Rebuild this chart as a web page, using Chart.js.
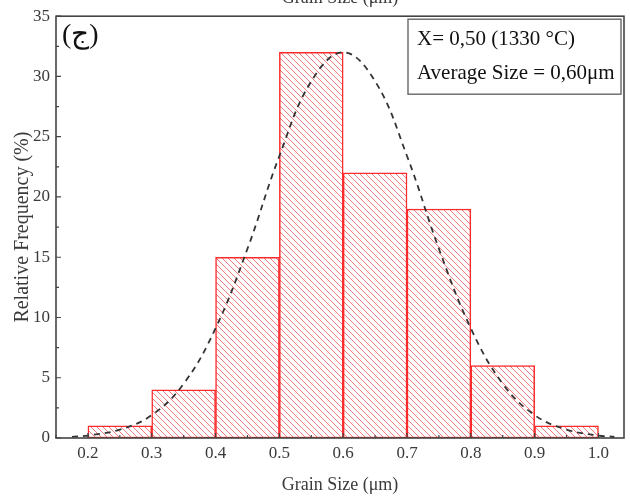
<!DOCTYPE html>
<html>
<head>
<meta charset="utf-8">
<script src="https://cdn.jsdelivr.net/npm/chart.js@4"></script>
<style>
  html, body { margin: 0; padding: 0; background: #fff; }
  #wrap { width: 630px; height: 497px; }
</style>
</head>
<body>
<div id="wrap"><canvas id="c" width="630" height="497"></canvas></div>
<script>
// Grain size histogram with a fitted normal curve.
const BIN_CENTERS = [0.25, 0.35, 0.45, 0.55, 0.65, 0.75, 0.85, 0.95];
const FREQ = [1, 4, 15, 32, 22, 19, 6, 1];

const FIT_X = [0.175, 0.2, 0.25, 0.3, 0.35, 0.4, 0.45, 0.5, 0.55, 0.6, 0.65, 0.7, 0.75, 0.8, 0.85, 0.9, 0.95, 1.0, 1.025];
const FIT_Y = [0.1, 0.2, 0.7, 1.9, 4.5, 9.1, 15.7, 23.4, 29.6, 32, 29.6, 23.4, 15.7, 9.1, 4.5, 1.9, 0.7, 0.2, 0.1];

const X_TICKS = [0.2, 0.3, 0.4, 0.5, 0.6, 0.7, 0.8, 0.9, 1.0];
const X_MINOR = [0.15, 0.25, 0.35, 0.45, 0.55, 0.65, 0.75, 0.85, 0.95];
const Y_TICKS = [0, 5, 10, 15, 20, 25, 30, 35];
const Y_MINOR = [2.5, 7.5, 12.5, 17.5, 22.5, 27.5, 32.5];

const PANEL = "(ج)";
const NOTE = ["X= 0,50 (1330 °C)", "Average Size = 0,60μm"];

const SERIF = "'Liberation Serif', 'DejaVu Serif', serif";
const INK = "#3a3a3a";

function hatch() {
  const s = 6;
  const c = document.createElement("canvas");
  c.width = s; c.height = s;
  const g = c.getContext("2d");
  g.fillStyle = "#fff";
  g.fillRect(0, 0, s, s);
  g.strokeStyle = "#ee7b7b";
  g.lineWidth = 1;
  g.beginPath();
  g.moveTo(-1, -1); g.lineTo(s + 1, s + 1);
  g.moveTo(s - 1, -1); g.lineTo(s + 1, 1);
  g.moveTo(-1, s - 1); g.lineTo(1, s + 1);
  g.stroke();
  return g.createPattern(c, "repeat");
}

const frame = {
  id: "frame",
  afterDraw(chart) {
    const { ctx, chartArea: a, scales: { x, y } } = chart;
    ctx.save();
    ctx.strokeStyle = "#444";
    ctx.lineWidth = 1.6;
    ctx.strokeRect(a.left, a.top, a.right - a.left, a.bottom - a.top);

    // inward ticks
    ctx.lineWidth = 1.2;
    ctx.beginPath();
    X_TICKS.forEach((v) => { const p = x.getPixelForValue(v); ctx.moveTo(p, a.bottom); ctx.lineTo(p, a.bottom - 5); });
    X_MINOR.forEach((v) => { const p = x.getPixelForValue(v); ctx.moveTo(p, a.bottom); ctx.lineTo(p, a.bottom - 3); });
    Y_TICKS.forEach((v) => { const p = y.getPixelForValue(v); ctx.moveTo(a.left, p); ctx.lineTo(a.left + 5, p); });
    Y_MINOR.forEach((v) => { const p = y.getPixelForValue(v); ctx.moveTo(a.left, p); ctx.lineTo(a.left + 3, p); });
    ctx.stroke();

    // panel letter
    ctx.fillStyle = "#111";
    ctx.font = `28px ${SERIF}`;
    ctx.textBaseline = "middle";
    ctx.textAlign = "left";
    ctx.fillText(PANEL, a.left + 6, a.top + 19);

    // info box
    const bx = 408, by = a.top + 3, bw = a.right - 3 - bx, bh = 75;
    ctx.fillStyle = "#fff";
    ctx.fillRect(bx, by, bw, bh);
    ctx.strokeStyle = "#666";
    ctx.lineWidth = 1.4;
    ctx.strokeRect(bx, by, bw, bh);
    ctx.fillStyle = "#111";
    ctx.font = `21px ${SERIF}`;
    ctx.fillText(NOTE[0], bx + 9, by + 20);
    ctx.fillText(NOTE[1], bx + 9, by + 54);

    // cropped title from the panel above
    ctx.fillStyle = INK;
    ctx.font = `18px ${SERIF}`;
    ctx.textAlign = "center";
    ctx.textBaseline = "alphabetic";
    ctx.fillText("Grain Size (μm)", (a.left + a.right) / 2, 3);
    ctx.restore();
  },
};

new Chart(document.getElementById("c"), {
  data: {
    datasets: [
      {
        type: "line",
        order: 0,
        data: FIT_X.map((v, i) => ({ x: v, y: FIT_Y[i] })),
        borderColor: "#333",
        borderWidth: 1.8,
        borderDash: [6, 5],
        pointRadius: 0,
        tension: 0.4,
        fill: false,
      },
      {
        type: "bar",
        order: 1,
        data: BIN_CENTERS.map((v, i) => ({ x: v, y: FREQ[i] })),
        backgroundColor: hatch(),
        borderColor: "#ff2a2a",
        borderWidth: 1.5,
        borderSkipped: false,
        barPercentage: 1,
        categoryPercentage: 1,
      },
    ],
  },
  options: {
    responsive: false,
    animation: false,
    events: [],
    layout: { padding: { top: 13, right: 6, left: 0, bottom: 0 } },
    plugins: { legend: { display: false }, tooltip: { enabled: false } },
    scales: {
      x: {
        type: "linear",
        offset: false,
        min: 0.15,
        max: 1.04,
        afterBuildTicks: (s) => { s.ticks = X_TICKS.map((v) => ({ value: v })); },
        afterFit: (s) => { s.height = 59; },
        grid: { display: false, offset: false, drawTicks: false },
        border: { display: false },
        ticks: { color: INK, font: { family: SERIF, size: 17 }, padding: 5, maxRotation: 0, callback: (v) => v.toFixed(1) },
        title: { display: true, text: "Grain Size (μm)", color: INK, font: { family: SERIF, size: 18 }, padding: { bottom: 1 } },
      },
      y: {
        min: 0,
        max: 35,
        afterBuildTicks: (s) => { s.ticks = Y_TICKS.map((v) => ({ value: v })); },
        afterFit: (s) => { s.width = 56; },
        grid: { display: false, drawTicks: false },
        border: { display: false },
        ticks: { color: INK, font: { family: SERIF, size: 17 }, padding: 6 },
        title: { display: true, text: "Relative Frequency (%)", color: INK, font: { family: SERIF, size: 20 }, padding: { top: 11 } },
      },
    },
  },
  plugins: [frame],
});
</script>
</body>
</html>
